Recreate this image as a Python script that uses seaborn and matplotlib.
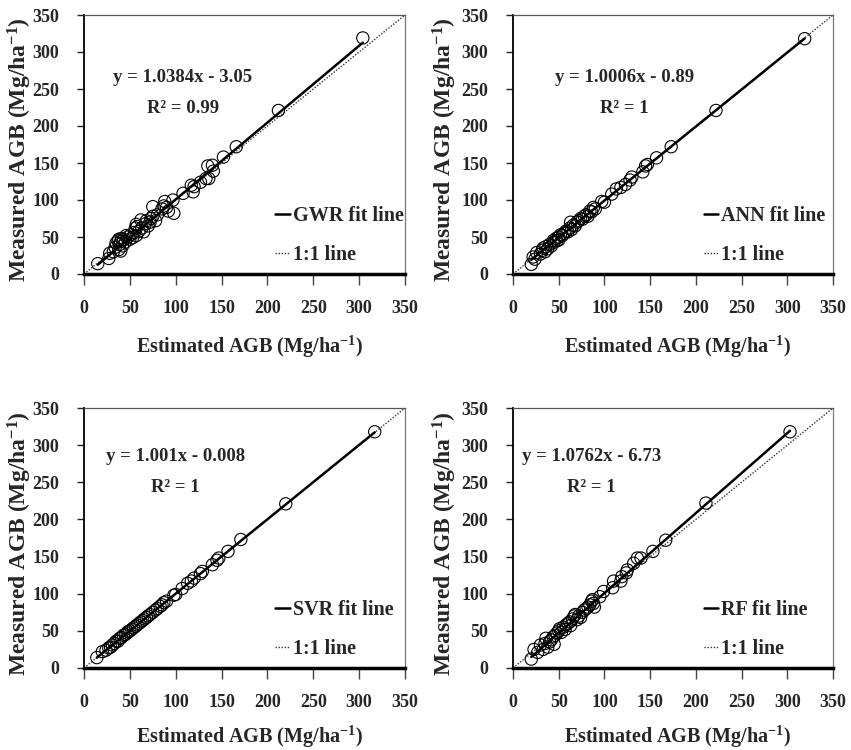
import matplotlib
matplotlib.use("Agg")
import matplotlib.pyplot as plt
import seaborn as sns
import numpy as np
import pandas as pd

# ---------------- data ----------------
gwr_est = [15, 27, 28, 32, 34, 35, 37, 38, 38, 39, 40, 40, 41, 42, 43, 45, 46, 48, 50, 51,
           53, 55, 56, 57, 57, 58, 60, 62, 63, 65, 67, 68, 70, 72, 73, 75, 75, 78, 80, 85,
           87, 88, 90, 92, 97, 98, 108, 117, 119, 120, 127, 133, 135, 136, 140, 141, 152, 166, 212, 304]
gwr_meas = [14, 21, 28, 30, 36, 42, 45, 33, 47, 40, 44, 31, 48, 38, 46, 43, 52, 50, 47, 53,
            49, 56, 62, 67, 52, 64, 58, 73, 62, 57, 68, 72, 65, 70, 75, 91, 78, 72, 80, 88,
            92, 98, 90, 85, 100, 82, 109, 120, 111, 118, 124, 129, 146, 129, 147, 139, 158, 172, 221, 319]

ann_est = [20, 22, 24, 26, 30, 32, 33, 35, 36, 38, 40, 42, 44, 45, 47, 48, 50, 50, 52, 54,
           56, 58, 60, 62, 63, 64, 66, 68, 70, 72, 74, 76, 78, 80, 82, 84, 86, 88, 90, 97,
           100, 108, 113, 118, 123, 128, 130, 142, 145, 147, 157, 173, 222, 319]
ann_meas = [13, 23, 20, 29, 27, 32, 35, 30, 37, 34, 40, 38, 45, 43, 48, 45, 50, 46, 53, 52,
            55, 58, 57, 62, 70, 60, 66, 65, 70, 72, 75, 74, 78, 80, 78, 85, 84, 90, 88, 98,
            97, 108, 115, 117, 121, 127, 131, 138, 146, 148, 157, 172, 221, 318]

svr_est = [14, 20, 24, 27, 29, 31, 33, 35, 37, 39, 41, 43, 45, 47, 48, 50, 52, 54, 56, 58,
           60, 62, 64, 66, 68, 70, 72, 75, 78, 80, 83, 85, 87, 90, 98, 100, 107, 113, 117, 120,
           127, 129, 140, 145, 147, 157, 171, 220, 317]
svr_meas = [14, 22, 24, 27, 28, 31, 33, 36, 36, 40, 41, 44, 45, 47, 49, 50, 52, 54, 56, 58,
            60, 62, 64, 66, 68, 70, 72, 75, 78, 80, 83, 85, 88, 90, 98, 99, 107, 114, 117, 121,
            127, 130, 139, 145, 148, 157, 173, 221, 318]

rf_est = [20, 23, 27, 30, 33, 35, 36, 38, 40, 42, 44, 45, 46, 48, 50, 51, 53, 55, 57, 58,
          60, 62, 63, 65, 67, 68, 70, 72, 74, 76, 78, 80, 82, 84, 86, 87, 88, 89, 95, 99,
          109, 110, 118, 119, 124, 125, 132, 136, 140, 153, 167, 211, 303]
rf_meas = [12, 25, 21, 31, 25, 33, 40, 28, 35, 38, 42, 32, 44, 47, 50, 53, 48, 55, 52, 58,
           60, 62, 57, 66, 70, 72, 65, 70, 68, 75, 78, 80, 82, 85, 90, 92, 87, 82, 96, 103,
           108, 117, 117, 123, 128, 132, 141, 148, 148, 157, 172, 222, 318]

models = ["GWR", "ANN", "SVR", "RF"]
slopes = [1.0384, 1.0006, 1.001, 1.0762]
intercepts = [-3.05, -0.89, -0.008, -6.73]
eq_texts = ["y = 1.0384x - 3.05", "y = 1.0006x - 0.89", "y = 1.001x - 0.008", "y = 1.0762x - 6.73"]
r2_texts = ["R² = 0.99", "R² = 1", "R² = 1", "R² = 1"]
estimated = [gwr_est, ann_est, svr_est, rf_est]
measured = [gwr_meas, ann_meas, svr_meas, rf_meas]
ticks = [0, 50, 100, 150, 200, 250, 300, 350]

# ---------------- style ----------------
sns.set_style("white")
plt.rcParams['font.family'] = ['Liberation Serif', 'DejaVu Serif']
plt.rcParams['font.weight'] = 'bold'
plt.rcParams['mathtext.default'] = 'regular'

fig = plt.figure(figsize=(8.51, 7.5), dpi=100)
W, H = 851, 750
# axes boxes in pixel coords: left, top, right, bottom
boxes = [(84, 15, 405, 274), (513, 15, 833, 274), (84, 408, 405, 668), (513, 408, 833, 668)]
eq_pos = [(108, 266, 224), (122, 266, 224), (100, 285, 243), (86, 285, 243)]

for i, m in enumerate(models):
    l, t, r, b = boxes[i]
    ax = fig.add_axes([l / W, 1 - b / H, (r - l) / W, (b - t) / H])
    df = pd.DataFrame({"est": estimated[i], "meas": measured[i]})

    # 1:1 line
    one = pd.DataFrame({"x": [0, 350], "y": [0, 350]})
    sns.lineplot(data=one, x="x", y="y", ax=ax, color="#333333", linestyle=(0, (1, 1.2)),
                 linewidth=1.0, label="1:1 line", zorder=2)
    # fit line
    xs = np.array([min(estimated[i]), max(estimated[i])], dtype=float)
    fit = pd.DataFrame({"x": xs, "y": slopes[i] * xs + intercepts[i]})
    sns.lineplot(data=fit, x="x", y="y", ax=ax, color="black", linewidth=1.8,
                 label=f"{m} fit line", zorder=3)
    # points
    sns.scatterplot(data=df, x="est", y="meas", ax=ax, marker="o", s=78,
                    facecolor="none", edgecolor="black", linewidth=0.8, zorder=4)

    ax.set_xlim(0, 350)
    ax.set_ylim(0, 350)
    ax.set_xticks(ticks)
    ax.set_yticks(ticks)
    ax.tick_params(axis="x", direction="out", length=8, width=1, color="#444444",
                   labelsize=13, pad=11, bottom=True)
    ax.tick_params(axis="y", direction="out", length=5, width=1, color="#222222",
                   labelsize=13, pad=13, left=True)
    for lab in ax.get_xticklabels() + ax.get_yticklabels():
        lab.set_fontweight("bold")

    ax.spines["left"].set_color("black")
    ax.spines["left"].set_linewidth(1.3)
    ax.spines["bottom"].set_color("black")
    ax.spines["bottom"].set_linewidth(2.5)
    ax.spines["top"].set_color("#555555")
    ax.spines["top"].set_linewidth(0.9)
    ax.spines["right"].set_color("#777777")
    ax.spines["right"].set_linewidth(0.9)

    ax.set_xlabel(r"Estimated AGB (Mg/ha$^{-1}$)", fontsize=14.5, fontweight="bold")
    ax.set_ylabel(r"Measured AGB (Mg/ha$^{-1}$)", fontsize=17, fontweight="bold")
    ax.yaxis.set_label_coords(-0.155 if i % 2 == 0 else -0.17, 0.48)
    ax.xaxis.set_label_coords(0.514, -0.23 if i < 2 else -0.215)

    ex, ey, ry = eq_pos[i]
    ax.text(ex, ey, eq_texts[i], ha="center", va="center", fontsize=13.5, fontweight="bold")
    ax.text(ex, ry, r2_texts[i], ha="center", va="center", fontsize=13.5, fontweight="bold")

    handles, labels = ax.get_legend_handles_labels()
    leg = ax.legend(handles[::-1][:2], labels[::-1][:2], loc="lower left",
                    bbox_to_anchor=(0.54, -0.035), frameon=False, handlelength=0.7,
                    handletextpad=0.15, labelspacing=0.95,
                    prop={"family": "Liberation Serif", "weight": "bold", "size": 14.5})

fig.savefig("out.png", dpi=100)
